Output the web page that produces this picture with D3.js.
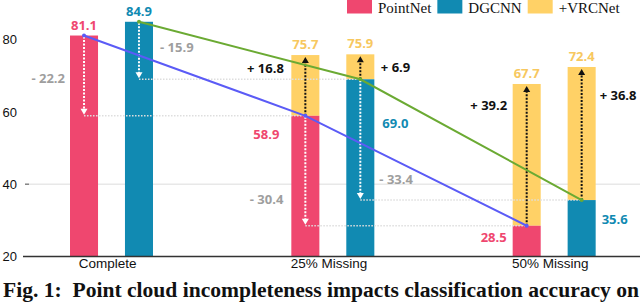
<!DOCTYPE html>
<html><head><meta charset="utf-8">
<script src="https://cdn.jsdelivr.net/npm/d3@7"></script>
<style>html,body{margin:0;padding:0;background:#fff;} svg{display:block}</style>
</head><body><svg id="c" width="640" height="304"></svg>
<script>
// ---- data ----
const categories = ["Complete", "25% Missing", "50% Missing"];
const series = ["PointNet", "DGCNN"];
const pointNet = [81.1, 58.9, 28.5];
const dgcnn = [84.9, 69.0, 35.6];
const vrcPointNet = [null, 75.7, 67.7];
const vrcDgcnn = [null, 75.9, 72.4];
const yTicks = [20, 40, 60, 80];
const gridValues = [40];
const legendLabels = ["PointNet", "DGCNN", "+VRCNet"];
const caption = "Fig. 1:  Point cloud incompleteness impacts classification accuracy on";

// ---- label layout (placement only) ----
const sideLabels = [
  {i:1, s:"PointNet", side:"left",  at:52.6, gap:12},
  {i:1, s:"DGCNN",    side:"right", at:55.6, gap:8},
  {i:2, s:"PointNet", side:"left",  at:24.1, gap:6},
  {i:2, s:"DGCNN",    side:"right", at:29.1, gap:6}
];
const dropLabels = [
  {i:0, s:"PointNet", side:"left",  at:67.9, gap:5},
  {i:0, s:"DGCNN",    side:"right", at:76.5, gap:7},
  {i:1, s:"PointNet", side:"left",  at:34.6, gap:8},
  {i:1, s:"DGCNN",    side:"right", at:40.1, gap:5}
];
const gainLabels = [
  {i:1, s:"PointNet", side:"left",  at:70.8, gap:7.5},
  {i:1, s:"DGCNN",    side:"right", at:71.1, gap:6.5},
  {i:2, s:"PointNet", side:"left",  at:60.6, gap:5.5},
  {i:2, s:"DGCNN",    side:"right", at:63.3, gap:4}
];

const values = {PointNet: pointNet, DGCNN: dgcnn};
const vrc = {PointNet: vrcPointNet, DGCNN: vrcDgcnn};
const colors = {PointNet: "#EF476F", DGCNN: "#118AB2", VRC: "#FFD166"};
const lineColors = {PointNet: "#5B5BF6", DGCNN: "#6BAA33"};
const numFont = "'Open Sans', sans-serif";

const svg = d3.select("#c");
const y = d3.scaleLinear().domain([20, 80]).range([256.5, 39.5]);
const x0 = d3.scaleBand().domain(categories).range([1, 665]).padding(0);
const x1 = d3.scaleBand().domain(series).range([69, 152]).paddingInner(0.49).paddingOuter(0);
const bw = x1.bandwidth();
const left = (i, s) => x0(categories[i]) + x1(s);
const cx = (i, s) => left(i, s) + bw / 2;
const right = (i, s) => left(i, s) + bw;

// gridline
gridValues.forEach(v => {
  svg.append("line").attr("x1", 25).attr("x2", 640).attr("y1", y(v)).attr("y2", y(v))
    .attr("stroke", "#dcdcdc").attr("stroke-width", 1);
  svg.append("line").attr("x1", 25).attr("x2", 29).attr("y1", y(v)).attr("y2", y(v))
    .attr("stroke", "#555").attr("stroke-width", 1);
});

// y axis labels
const ya = svg.append("g").attr("transform", "translate(24,0)")
  .call(d3.axisLeft(y).tickValues(yTicks).tickSize(0).tickPadding(7).tickFormat(d3.format("d")));
ya.select(".domain").remove();
ya.selectAll("text").attr("font-family", "'Liberation Sans', Arial, sans-serif").attr("font-size", 13).attr("fill", "#111");

// bars
categories.forEach((c, i) => {
  series.forEach(s => {
    const v = values[s][i], t = vrc[s][i];
    if (t != null) {
      svg.append("rect").attr("x", left(i, s)).attr("width", bw)
        .attr("y", y(t)).attr("height", y(v) - y(t)).attr("fill", colors.VRC);
    }
    svg.append("rect").attr("x", left(i, s)).attr("width", bw)
      .attr("y", y(v)).attr("height", y(20) - y(v)).attr("fill", colors[s]);
  });
});

// x axis
svg.append("line").attr("x1", 23).attr("x2", 640).attr("y1", y(20)).attr("y2", y(20))
  .attr("stroke", "#333").attr("stroke-width", 1.3);
const xa = svg.append("g").attr("transform", `translate(0,${y(20)})`)
  .call(d3.axisBottom(x0).tickSize(0).tickPadding(2));
xa.select(".domain").remove();
xa.selectAll("text").attr("dx", -4).attr("font-family", "'Liberation Sans', Arial, sans-serif")
  .attr("font-size", 13.5).attr("fill", "#111");

// level lines (horizontal dotted) and drop arrows (white)
for (let i = 0; i < categories.length - 1; i++) {
  series.forEach(s => {
    const b = values[s][i + 1];
    svg.append("line").attr("x1", cx(i, s)).attr("x2", cx(i + 1, s))
      .attr("y1", y(b)).attr("y2", y(b))
      .attr("stroke", "#dedede").attr("stroke-width", 1.5).attr("stroke-dasharray", "1.5,1.5");
  });
}
for (let i = 0; i < categories.length - 1; i++) {
  series.forEach(s => {
    const a = values[s][i], b = values[s][i + 1];
    const xx = cx(i, s), tip = y(b) - 1;
    svg.append("line").attr("x1", xx).attr("x2", xx).attr("y1", y(a) + 1).attr("y2", tip - 5)
      .attr("stroke", "#fff").attr("stroke-width", 2).attr("stroke-dasharray", "2,1.5");
    svg.append("path").attr("d", `M${xx - 3.5},${tip - 6}L${xx + 3.5},${tip - 6}L${xx},${tip}Z`).attr("fill", "#fff");
  });
}
// gain arrows (black)
categories.forEach((c, i) => {
  series.forEach(s => {
    const t = vrc[s][i]; if (t == null) return;
    const xx = cx(i, s), tip = y(t) + 2;
    svg.append("line").attr("x1", xx).attr("x2", xx).attr("y1", y(values[s][i])).attr("y2", tip + 5)
      .attr("stroke", "#111").attr("stroke-width", 2).attr("stroke-dasharray", "2,1.5");
    svg.append("path").attr("d", `M${xx - 3.5},${tip + 6}L${xx + 3.5},${tip + 6}L${xx},${tip}Z`).attr("fill", "#111");
  });
});

// trend lines
series.forEach(s => {
  const line = d3.line().x((d, i) => cx(i, s)).y(d => y(d));
  svg.append("path").datum(values[s]).attr("d", line).attr("fill", "none")
    .attr("stroke", lineColors[s]).attr("stroke-width", 2);
  values[s].forEach((v, i) => {
    svg.append("circle").attr("cx", cx(i, s)).attr("cy", y(v)).attr("r", 2).attr("fill", lineColors[s]);
  });
});

// labels
function label(txt, xx, yy, anchor, color) {
  svg.append("text").attr("x", xx).attr("y", yy).attr("text-anchor", anchor)
    .attr("font-family", numFont).attr("font-weight", 700).attr("font-size", 13)
    .attr("fill", color).style("white-space", "pre").text(txt);
}
const f1 = d3.format(".1f");
series.forEach(s => label(f1(values[s][0]), cx(0, s), y(values[s][0]) - 5.5, "middle", colors[s]));
categories.forEach((c, i) => series.forEach(s => {
  const t = vrc[s][i]; if (t != null) label(f1(t), cx(i, s), y(t) - 6, "middle", "#F7C85F");
}));
sideLabels.forEach(d => {
  const xx = d.side === "left" ? left(d.i, d.s) - d.gap : right(d.i, d.s) + d.gap;
  label(f1(values[d.s][d.i]), xx, y(d.at), d.side === "left" ? "end" : "start", colors[d.s]);
});
dropLabels.forEach(d => {
  const xx = d.side === "left" ? left(d.i, d.s) - d.gap : right(d.i, d.s) + d.gap;
  const diff = values[d.s][d.i] - values[d.s][d.i + 1];
  label("- " + f1(diff), xx, y(d.at), d.side === "left" ? "end" : "start", "#9e9e9e");
});
gainLabels.forEach(d => {
  const xx = d.side === "left" ? left(d.i, d.s) - d.gap : right(d.i, d.s) + d.gap;
  const diff = vrc[d.s][d.i] - values[d.s][d.i];
  label("+ " + f1(diff), xx, y(d.at), d.side === "left" ? "end" : "start", "#111");
});

// legend
const legColors = [colors.PointNet, colors.DGCNN, colors.VRC];
let lx = 347;
legendLabels.forEach((t, k) => {
  svg.append("rect").attr("x", lx).attr("y", -1).attr("width", 25).attr("height", 14.5).attr("fill", legColors[k]);
  const tx = svg.append("text").attr("x", lx + 31).attr("y", 13.4)
    .attr("font-family", "'Liberation Serif', 'Times New Roman', serif").attr("font-size", 15)
    .attr("fill", "#111").text(t);
  lx = lx + 31 + tx.node().getComputedTextLength() + 6;
});

// caption
svg.append("text").attr("x", 3).attr("y", 297)
  .attr("font-family", "'Liberation Serif', 'Times New Roman', serif").attr("font-weight", 700)
  .attr("font-size", 20).attr("fill", "#111").style("white-space", "pre")
  .attr("textLength", 636).attr("lengthAdjust", "spacingAndGlyphs").text(caption);
</script></body></html>
